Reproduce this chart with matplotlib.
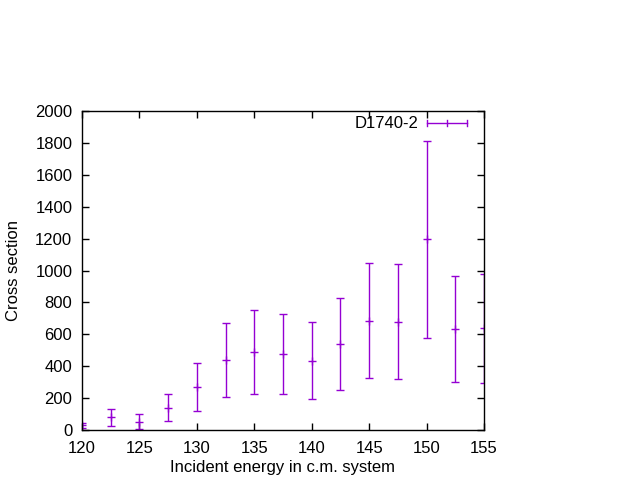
import matplotlib
matplotlib.use("Agg")
import matplotlib.pyplot as plt
from matplotlib.lines import Line2D

plt.rcParams['font.family'] = ['Liberation Sans', 'DejaVu Sans']

energy = [120, 122.5, 125, 127.5, 130, 132.5, 135, 137.5, 140, 142.5, 145, 147.5, 150, 152.5, 155]
cross = [30, 80, 52, 140, 270, 440, 488, 475, 435, 540, 685, 680, 1195, 632, 637]
err = [15, 53, 48, 85, 150, 232, 262, 250, 242, 290, 362, 360, 620, 333, 343]

x_ticks = [120, 125, 130, 135, 140, 145, 150, 155]
y_ticks = [0, 200, 400, 600, 800, 1000, 1200, 1400, 1600, 1800, 2000]
series_label = "D1740-2"
color = "#9400D3"

fig = plt.figure(figsize=(6.4, 4.8), dpi=100)
ax = fig.add_axes([82/640, 1-430/480, 402/640, 319/480])

ax.errorbar(energy, cross, yerr=err, fmt='+', color=color, ecolor=color,
            elinewidth=1.0, capsize=2.6, capthick=1.0, markersize=5.5, mew=1.0)

ax.set_xlim(120, 155)
ax.set_ylim(0, 2000)
ax.set_xticks(x_ticks)
ax.set_yticks(y_ticks)
ax.tick_params(direction='in', top=True, right=True, length=5, width=1, labelsize=12)
ax.tick_params(axis='x', pad=8)
ax.tick_params(axis='y', pad=7)
for s in ax.spines.values():
    s.set_linewidth(1)
ax.set_xlabel("Incident energy in c.m. system", fontsize=12, labelpad=3)
ax.set_ylabel("Cross section", fontsize=12, labelpad=10)

# gnuplot-style key: text then horizontal errorbar sample
tr = ax.transAxes
def ax_x(px):
    return (px - 82) / 402
def ax_y(py):
    return (430 - py) / 319
ky = ax_y(123)
ax.text(ax_x(418), ky, series_label, transform=tr, ha='right', va='center', fontsize=12)
x0, x1 = ax_x(427), ax_x(467)
ax.add_line(Line2D([x0, x1], [ky, ky], transform=tr, color=color, lw=1))
ch = 3/319
for xx in (x0, x1, (x0+x1)/2):
    ax.add_line(Line2D([xx, xx], [ky-ch, ky+ch], transform=tr, color=color, lw=1))

fig.savefig("out.png", dpi=100)
